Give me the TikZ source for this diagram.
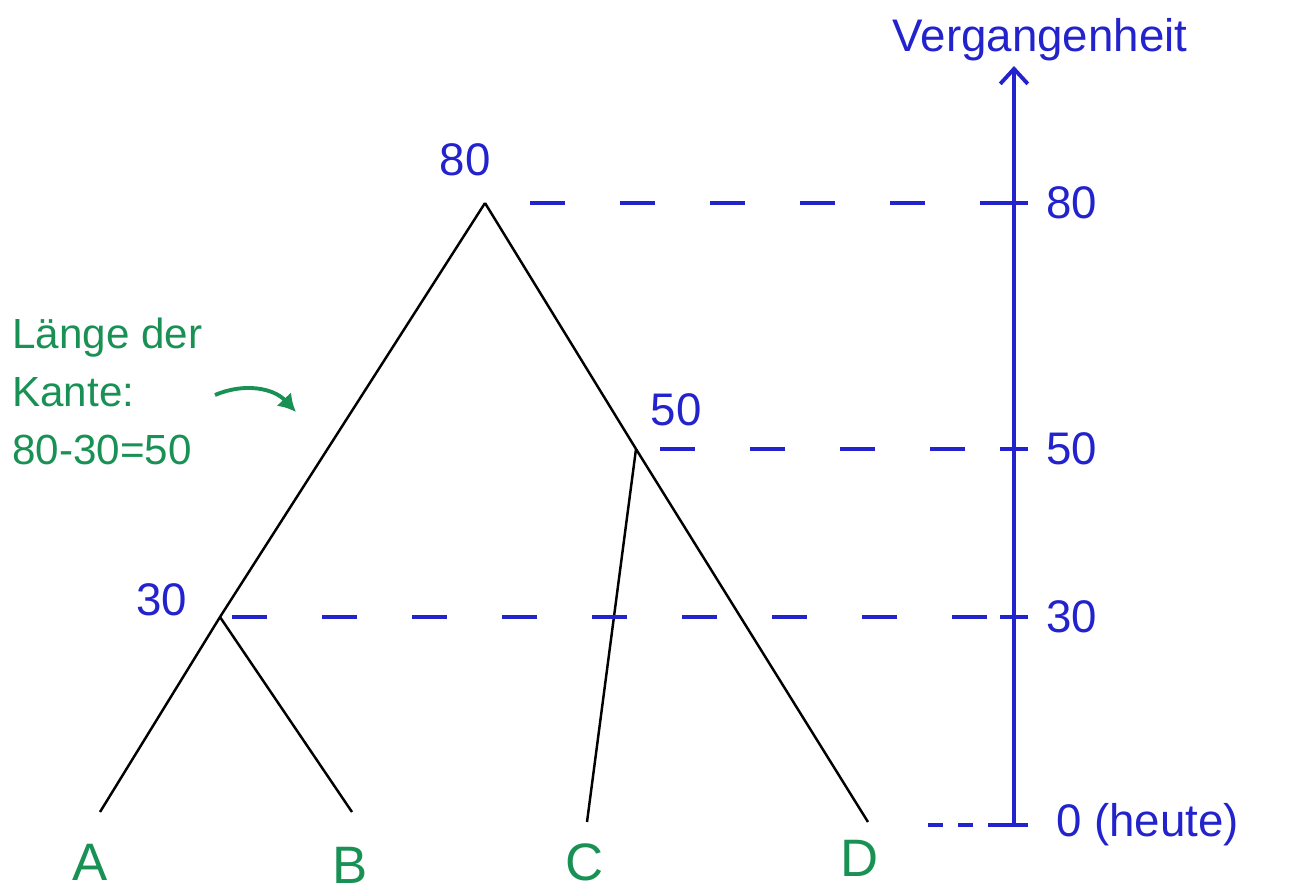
\documentclass[tikz,border=0pt]{standalone}
\usepackage{fontspec}
\setsansfont{Liberation Sans}
\usepackage{tikz}
\usetikzlibrary{arrows.meta,positioning,calc}
\definecolor{penblue}{RGB}{35,35,205}
\definecolor{pengreen}{RGB}{25,145,85}
\tikzset{
  branch/.style={draw=black, line width=1.4pt},
  level/.style={draw=penblue, line width=2.4pt, dash pattern=on 0.7cm off 1.1cm},
  timeaxis/.style={draw=penblue, line width=2.2pt, -{Straight Barb[length=3mm,width=5.5mm,line width=2.2pt]}},
  tickmark/.style={draw=penblue, line width=2.4pt},
  agelabel/.style={text=penblue, inner sep=1pt, font=\sffamily\fontsize{26}{28}\selectfont},
  taxon/.style={text=pengreen, inner sep=1pt, font=\sffamily\fontsize{30}{32}\selectfont},
  note/.style={text=pengreen, align=left, inner sep=0pt, font=\sffamily\fontsize{24}{33}\selectfont},
  notearrow/.style={draw=pengreen, line width=2.2pt, -{Latex[length=3.5mm,width=4mm]}}
}

\begin{document}
\begin{tikzpicture}[x=0.02cm, y=-0.02cm]
\useasboundingbox (0,0) rectangle (1297,893);
% tree
\coordinate (root) at (485,203);
\coordinate (n50) at (636,449);
\coordinate (n30) at (220,617);
\coordinate (a) at (100,812);
\coordinate (b) at (352,812);
\coordinate (c) at (587,822);
\coordinate (d) at (868,822);
\draw[branch] (root) -- (n30) -- (a);
\draw[branch] (n30) -- (b);
\draw[branch] (root) -- (n50) -- (d);
\draw[branch] (n50) -- (c);
\node[agelabel] (l80) at (465,160) {80};
\node[agelabel] (l50) at (676,410) {50};
\node[agelabel] (l30) at (162,600) {30};
\node[taxon] (ta) at (90,862) {A};
\node[taxon] (tb) at (350,865) {B};
\node[taxon] (tc) at (585,862) {C};
\node[taxon] (td) at (860,858) {D};
% time axis
\coordinate (t0) at (1014,825);
\coordinate (t30) at (1014,617);
\coordinate (t50) at (1014,449);
\coordinate (t80) at (1014,203);
\coordinate (top) at (1014,66);
\coordinate (now) at (928,825);
\draw[timeaxis] (t0) -- (top);
\foreach \t in {t0,t30,t50,t80}
  \draw[tickmark] ($(\t)+(-14,0)$) -- ($(\t)+(14,0)$);
\draw[level] ($(root)+(45,0)$) -- (t80);
\draw[level] ($(n50)+(24,0)$) -- (t50);
\draw[level] ($(n30)+(12,0)$) -- (t30);
\draw[level, dash pattern=on 0.3cm off 0.3cm] (now) -- (t0);
\node[agelabel, right=6mm of t80] (a80) {80};
\node[agelabel, right=6mm of t50] (a50) {50};
\node[agelabel, right=6mm of t30] (a30) {30};
\node[agelabel, right=8mm of t0] (a0) {0 (heute)};
\node[agelabel] (past) at (1040,40) {Vergangenheit};
% edge length note
\node[note, anchor=north west] (kante) at (12,318) {Länge der\\Kante:\\80-30=50};
\coordinate (arrowtip) at (296,412);
\draw[notearrow] (215,395) coordinate (arrowtail) to[bend left=35] (arrowtip);
\end{tikzpicture}
\end{document}
